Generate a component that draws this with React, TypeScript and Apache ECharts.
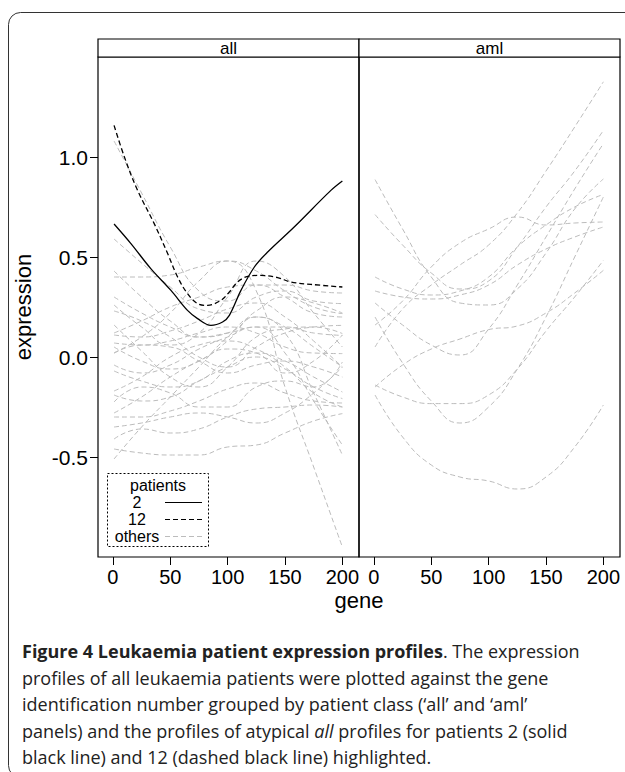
import React, { useEffect, useRef } from "react";
import * as echarts from "echarts";

// gene positions at which the smooth profiles are sampled
const GENE = [1, 25, 50, 75, 100, 125, 150, 175, 200];
const X_TICKS = [0, 50, 100, 150, 200];
const Y_TICKS = [-0.5, 0.0, 0.5, 1.0];
const PANELS = ["all", "aml"];

// 'all' panel: other patients (grey dashed)
const ALL_OTHERS = [
  [1.08, 0.82, 0.55, 0.33, 0.28, 0.36, 0.36, 0.33, 0.32],
  [0.59, 0.47, 0.35, 0.24, 0.22, 0.3, 0.33, 0.28, 0.267],
  [0.4, 0.4, 0.41, 0.45, 0.48, 0.43, 0.33, 0.25, 0.217],
  [0.43, 0.3, 0.18, 0.1, 0.12, 0.23, 0.3, 0.27, 0.22],
  [0.26, 0.15, 0.06, 0.12, 0.3, 0.48, 0.4, 0.22, 0.05],
  [0.23, 0.18, 0.1, 0.0, -0.05, 0.05, 0.12, 0.15, 0.158],
  [0.16, 0.03, -0.1, -0.15, -0.05, 0.1, 0.14, 0.15, 0.117],
  [0.11, 0.1, 0.13, 0.18, 0.24, 0.27, 0.2, 0.08, -0.05],
  [0.07, 0.06, 0.08, 0.12, 0.15, 0.12, 0.05, 0.02, 0.017],
  [0.05, -0.02, -0.06, -0.02, 0.08, 0.2, 0.12, -0.18, -0.49],
  [0.02, 0.06, 0.05, -0.02, -0.08, -0.04, -0.02, -0.05, -0.1],
  [-0.04, -0.08, -0.04, 0.04, 0.1, 0.15, 0.15, 0.12, 0.108],
  [-0.07, -0.12, -0.15, -0.12, -0.02, 0.02, -0.02, -0.1, -0.175],
  [-0.17, -0.1, 0.0, 0.06, 0.08, 0.04, -0.05, -0.18, -0.25],
  [-0.19, -0.22, -0.2, -0.12, -0.05, 0.0, -0.06, -0.15, -0.208],
  [-0.225, -0.15, -0.18, -0.25, -0.25, -0.15, -0.12, -0.15, -0.025],
  [-0.3, -0.3, -0.27, -0.22, -0.16, -0.13, -0.18, -0.22, -0.23],
  [-0.41, -0.36, -0.38, -0.36, -0.3, -0.26, -0.25, -0.24, -0.25],
  [-0.46, -0.48, -0.49, -0.49, -0.45, -0.44, -0.38, -0.32, -0.283],
  [-0.51, -0.35, -0.2, -0.05, 0.1, 0.2, 0.15, 0.05, -0.05],
  [0.02, 0.1, 0.22, 0.38, 0.48, 0.33, -0.15, -0.55, -0.95],
  [0.3, 0.22, 0.15, 0.1, 0.12, 0.15, 0.02, -0.22, -0.44],
  [-0.28, -0.2, -0.1, -0.02, 0.04, 0.02, -0.08, -0.02, 0.11],
  [0.12, 0.18, 0.25, 0.3, 0.35, 0.36, 0.3, 0.22, 0.2],
  [-0.35, -0.33, -0.3, -0.28, -0.3, -0.33, -0.28, -0.18, -0.05],
];

// 'aml' panel: all patients (grey dashed)
const AML = [
  [0.887, 0.64, 0.4, 0.27, 0.26, 0.34, 0.52, 0.74, 0.89],
  [0.712, 0.56, 0.42, 0.34, 0.38, 0.55, 0.75, 0.93, 1.133],
  [0.16, 0.28, 0.45, 0.57, 0.64, 0.7, 0.66, 0.67, 0.675],
  [0.27, 0.16, 0.06, 0.01, 0.14, 0.36, 0.6, 0.84, 1.067],
  [0.05, 0.24, 0.36, 0.46, 0.56, 0.72, 0.93, 1.15, 1.376],
  [0.4, 0.34, 0.31, 0.33, 0.4, 0.55, 0.66, 0.75, 0.813],
  [0.33, 0.3, 0.29, 0.31, 0.36, 0.46, 0.54, 0.6, 0.65],
  [0.2, -0.03, -0.22, -0.33, -0.25, -0.06, 0.2, 0.5, 0.8],
  [-0.15, -0.04, 0.04, 0.09, 0.137, 0.155, 0.22, 0.32, 0.433],
  [-0.14, -0.2, -0.233, -0.233, -0.19, -0.06, 0.13, 0.3, 0.483],
  [-0.19, -0.4, -0.54, -0.6, -0.62, -0.66, -0.6, -0.45, -0.24],
];

// highlighted patient 2 (solid black)
const P2_GENE = [1, 15.7, 33, 50.6, 65, 73.8, 85.4, 95.6, 101.5, 111.6, 123.3, 134.9, 158, 190, 200];
const P2_EXPR = [0.665, 0.567, 0.442, 0.333, 0.233, 0.192, 0.158, 0.175, 0.208, 0.333, 0.45, 0.525, 0.65, 0.833, 0.88];

// highlighted patient 12 (dashed black)
const P12_GENE = [1, 10, 21.5, 36, 47.7, 56.4, 65, 73.8, 82.5, 94, 101.5, 108.7, 117.4, 129, 143.6, 155, 172.6, 200];
const P12_EXPR = [1.158, 1.0, 0.833, 0.667, 0.517, 0.4, 0.317, 0.267, 0.258, 0.283, 0.325, 0.375, 0.403, 0.408, 0.397, 0.375, 0.363, 0.35];

const LEGEND_TITLE = "patients";
const LEGEND_ITEMS = ["2", "12", "others"];

const CAPTION = [
  "{b|Figure 4 Leukaemia patient expression profiles}. The expression",
  "profiles of all leukaemia patients were plotted against the gene",
  "identification number grouped by patient class (\u2018all\u2019 and \u2018aml\u2019",
  "panels) and the profiles of atypical {i|all} profiles for patients 2 (solid",
  "black line) and 12 (dashed black line) highlighted.",
];

const AX = "'Liberation Sans', Arial, sans-serif";
const CAP = "'Open Sans', sans-serif";
const GREY = "#bcbcbc";

export default function App() {
  const ref = useRef<HTMLDivElement>(null);
  useEffect(() => {
    document.body.style.margin = "0";
    const chart = echarts.init(ref.current!, null, { renderer: "svg" });

    const grids = [
      { left: 98, top: 57, width: 261, height: 500 },
      { left: 359, top: 57, width: 261, height: 500 },
    ].map((g) => ({ ...g, show: true, borderColor: "#000", borderWidth: 1.2, backgroundColor: "transparent" }));

    const xAxes = [0, 1].map((i) => ({
      type: "value",
      gridIndex: i,
      position: "bottom",
      min: -13,
      max: 214.5,
      axisLine: { show: false, onZero: false },
      splitLine: { show: false },
      axisTick: { show: true, length: 8, lineStyle: { color: "#000", width: 1 }, customValues: X_TICKS },
      axisLabel: {
        show: true,
        customValues: X_TICKS,
        color: "#000",
        fontSize: 20,
        fontFamily: AX,
        margin: 10,
      },
    }));

    const yAxes = [0, 1].map((i) => ({
      type: "value",
      gridIndex: i,
      position: "left",
      min: -1,
      max: 1.5,
      axisLine: { show: false, onZero: false },
      splitLine: { show: false },
      axisTick: { show: i === 0, length: 8, lineStyle: { color: "#000", width: 1 }, customValues: Y_TICKS },
      axisLabel: {
        show: i === 0,
        customValues: Y_TICKS,
        formatter: (v: number) => v.toFixed(1),
        color: "#000",
        fontSize: 21,
        fontFamily: AX,
        margin: 10,
      },
      name: i === 0 ? "expression" : "",
      nameLocation: "middle",
      nameGap: 64,
      nameTextStyle: { color: "#000", fontSize: 22, fontFamily: AX },
    }));

    const greySeries = (rows: number[][], idx: number) =>
      rows.map((vals) => ({
        type: "line",
        xAxisIndex: idx,
        yAxisIndex: idx,
        data: GENE.map((g, k) => [g, vals[k]]),
        showSymbol: false,
        smooth: true,
        silent: true,
        z: 2,
        lineStyle: { color: GREY, width: 1, type: [5, 3] },
      }));

    const series: any[] = [
      ...greySeries(ALL_OTHERS, 0),
      ...greySeries(AML, 1),
      {
        type: "line",
        xAxisIndex: 0,
        yAxisIndex: 0,
        data: P2_GENE.map((g, k) => [g, P2_EXPR[k]]),
        showSymbol: false,
        smooth: 0.35,
        z: 5,
        lineStyle: { color: "#000", width: 1.3, type: "solid" },
      },
      {
        type: "line",
        xAxisIndex: 0,
        yAxisIndex: 0,
        data: P12_GENE.map((g, k) => [g, P12_EXPR[k]]),
        showSymbol: false,
        smooth: 0.35,
        z: 5,
        lineStyle: { color: "#000", width: 1.3, type: [5, 3] },
      },
    ];

    const strips = PANELS.flatMap((p, i) => {
      const g = grids[i];
      return [
        {
          type: "rect",
          shape: { x: g.left, y: 39, width: g.width, height: 18 },
          style: { fill: "#fff", stroke: "#000", lineWidth: 1.2 },
          z: 10,
        },
        {
          type: "text",
          x: g.left + g.width / 2,
          y: 48,
          style: { text: p, fill: "#000", font: `17px ${AX}`, align: "center", verticalAlign: "middle" },
          z: 11,
        },
      ];
    });

    const legendLines = [
      { color: "#000", dash: null as any },
      { color: "#000", dash: [5, 3] },
      { color: GREY, dash: [5, 3] },
    ];
    const legend = [
      {
        type: "rect",
        shape: { x: 107.5, y: 473.5, width: 101, height: 73 },
        style: { fill: "#fff", stroke: "#000", lineWidth: 1, lineDash: [2, 2] },
        z: 20,
      },
      {
        type: "text",
        x: 158,
        y: 485,
        style: { text: LEGEND_TITLE, fill: "#000", font: `16px ${AX}`, align: "center", verticalAlign: "middle" },
        z: 21,
      },
      ...LEGEND_ITEMS.flatMap((t, k) => [
        {
          type: "text",
          x: 137,
          y: 502.5 + k * 17,
          style: { text: t, fill: "#000", font: `16px ${AX}`, align: "center", verticalAlign: "middle" },
          z: 21,
        },
        {
          type: "line",
          shape: { x1: 165, y1: 502.5 + k * 17, x2: 202, y2: 502.5 + k * 17 },
          style: { stroke: legendLines[k].color, lineWidth: 1.2, lineDash: legendLines[k].dash },
          z: 21,
        },
      ]),
    ];

    const caption = CAPTION.map((t, k) => ({
      type: "text",
      x: 22,
      y: 651 + k * 26.6,
      style: {
        text: t,
        fill: "#222",
        font: `18px ${CAP}`,
        verticalAlign: "middle",
        rich: {
          b: { fontWeight: "bold", fontSize: 18, fontFamily: CAP, fill: "#222" },
          i: { fontStyle: "italic", fontSize: 18, fontFamily: CAP, fill: "#222" },
        },
      },
      z: 30,
    }));

    chart.setOption({
      animation: false,
      backgroundColor: "#fff",
      grid: grids,
      xAxis: xAxes,
      yAxis: yAxes,
      series,
      graphic: [
        {
          type: "rect",
          shape: { x: 8.5, y: 12.5, width: 680, height: 765, r: 12 },
          style: { fill: "none", stroke: "#333", lineWidth: 1 },
          z: 1,
        },
        ...strips,
        {
          type: "text",
          x: 359,
          y: 600,
          style: { text: "gene", fill: "#000", font: `22px ${AX}`, align: "center", verticalAlign: "middle" },
        },
        ...legend,
        ...caption,
      ],
    });
    return () => chart.dispose();
  }, []);
  return <div ref={ref} style={{ width: 625, height: 772 }} />;
}
